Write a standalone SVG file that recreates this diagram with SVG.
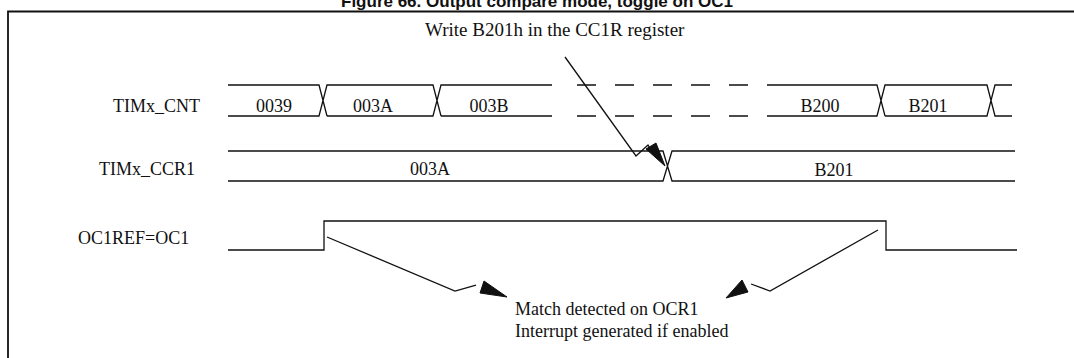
<svg xmlns="http://www.w3.org/2000/svg" width="1074" height="358" viewBox="0 0 1074 358">
<style>
.sig{fill:none;stroke:#111;stroke-width:1.3;stroke-linejoin:miter}
.lbl{font-family:"Liberation Serif","Times New Roman",serif;font-size:18px;fill:#111}
.mid{text-anchor:middle}
.ttl{font-family:"Liberation Sans",Arial,sans-serif;font-size:17px;font-weight:bold;fill:#111;text-anchor:middle}
.arr{fill:none;stroke:#111;stroke-width:1.3}
.head{fill:#111;stroke:#111;stroke-width:1}
</style>
<rect width="1074" height="358" fill="#fff"/>
<text class="ttl" x="537" y="6.5">Figure 66. Output compare mode, toggle on OC1</text>
<path d="M8,358 V11.5 H1074" fill="none" stroke="#111" stroke-width="1.8"/>

<g id="timx_cnt">
<text class="lbl" x="113" y="112">TIMx_CNT</text>
<path class="sig" d="M228,85 H319 L327,116 M228,116 H319 L327,85 H433 L441,116 M327,116 H433 L441,85 H552 M441,116 H552"/>
<path class="sig" d="M577,85 H596 M615,85 H634 M653,85 H672 M691,85 H710 M729,85 H748 M577,116 H596 M615,116 H634 M653,116 H672 M691,116 H710 M729,116 H748"/>
<path class="sig" d="M767,85 H877 L885,116 M767,116 H877 L885,85 H987 L995,116 H1012 M885,116 H987 L995,85 H1012"/>
<text class="lbl mid" x="274" y="112">0039</text>
<text class="lbl mid" x="373" y="112">003A</text>
<text class="lbl mid" x="489" y="112">003B</text>
<text class="lbl mid" x="820" y="112">B200</text>
<text class="lbl mid" x="928" y="112">B201</text>
</g>

<g id="timx_ccr1">
<text class="lbl" x="99" y="175">TIMx_CCR1</text>
<path class="sig" d="M228,151 H663 L672,181 H1015 M228,181 H663 L672,151 H1015"/>
<text class="lbl mid" x="430" y="175">003A</text>
<text class="lbl mid" x="834" y="176">B201</text>
</g>

<g id="oc1ref">
<text class="lbl" x="78" y="244">OC1REF=OC1</text>
<path class="sig" d="M228,250 H324 V221 H886 V250 H1017"/>
</g>

<g id="write_note">
<text class="lbl" x="425" y="36" style="font-size:19px">Write B201h in the CC1R register</text>
</g>

<g id="match_note">
<text class="lbl" x="515" y="315">Match detected on OCR1</text>
<text class="lbl" x="515" y="337">Interrupt generated if enabled</text>
</g>

<g id="connectors">
<polyline class="arr" points="565,57 636,156 648,145 651,150"/>
<polygon class="head" points="646,149 656,143 665,166"/>
<polyline class="arr" points="327,237 455,291 476,285"/>
<polygon class="head" points="484,281 480,293 507,297"/>
<polyline class="arr" points="878,230 770,291 751,284"/>
<polygon class="head" points="742,280 748,292 726,298"/>
</g>
</svg>
